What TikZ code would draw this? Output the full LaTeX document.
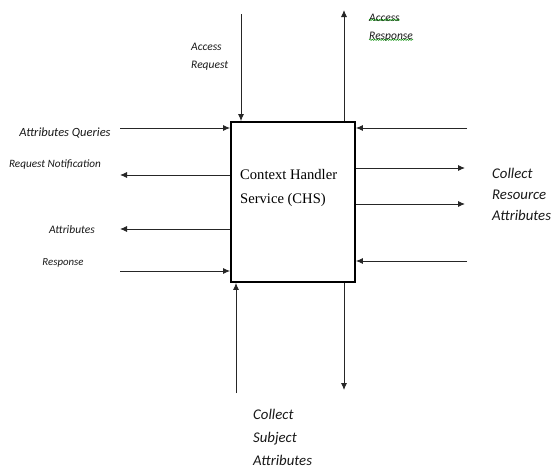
\documentclass[tikz,border=0pt]{standalone}
\usepackage{fontspec}
\setmainfont{Liberation Serif}
\newfontfamily\lblfont{Carlito}
\usetikzlibrary{arrows.meta,decorations.pathmorphing}
\begin{document}
\begin{tikzpicture}[x=1pt,y=-1pt,
  arr/.style={draw=black!85,line width=0.9pt,-{Latex[length=7pt,width=6pt]}},
  lbl/.style={font=\lblfont\itshape\fontsize{#1}{15}\selectfont,inner sep=0pt,text=black!90},
  lbl/.default=11.5,
  biglbl/.style={font=\lblfont\itshape\fontsize{14.8}{22}\selectfont,inner sep=0pt,align=left,text=black!90},
  wavy/.style={draw=green!55!black,line width=0.5pt,decorate,decoration={snake,amplitude=0.6pt,segment length=2.5pt}}]
\useasboundingbox (0,0) rectangle (560,471);
\fill[white] (0,0) rectangle (560,471);
% main box
\node[draw=black,line width=1.8pt,minimum width=124pt,minimum height=160pt,inner sep=0pt] (box) at (293,202) {};
\node[font=\fontsize{14.6}{24}\selectfont,align=left,inner sep=0pt,anchor=west] (chs) at (240,188) {Context Handler\\Service (CHS)};
% free ends
\coordinate (arqS) at (241,14);
\coordinate (arsE) at (344,10);
\coordinate (aqS) at (120,128);
\coordinate (rnE) at (120,175);
\coordinate (atE) at (120,229);
\coordinate (rsS) at (120,271);
\coordinate (r1S) at (467,128);
\coordinate (r2E) at (465,168);
\coordinate (r3E) at (465,204);
\coordinate (r4S) at (467,261);
\coordinate (b1S) at (236,393);
\coordinate (b2E) at (344,390);
% connectors
\draw[arr] (arqS) -- (arqS |- box.north);
\draw[arr] (box.north -| arsE) -- (arsE);
\draw[arr] (aqS) -- (box.west |- aqS);
\draw[arr] (box.west |- rnE) -- (rnE);
\draw[arr] (box.west |- atE) -- (atE);
\draw[arr] (rsS) -- (box.west |- rsS);
\draw[arr] (r1S) -- (box.east |- r1S);
\draw[arr] (box.east |- r2E) -- (r2E);
\draw[arr] (box.east |- r3E) -- (r3E);
\draw[arr] (r4S) -- (box.east |- r4S);
\draw[arr] (b1S) -- (box.south -| b1S);
\draw[arr] (box.south -| b2E) -- (b2E);
% labels
\node[lbl,anchor=west] (laccreq1) at (191,47) {Access};
\node[lbl,anchor=west] (laccreq2) at (191,66) {Request};
\node[lbl,anchor=west] (laccres1) at (369,18) {Access};
\node[lbl,anchor=west] (laccres2) at (369,37) {Response};
\draw[wavy] ([yshift=2pt]laccres1.south west) -- ([yshift=2pt]laccres1.south east);
\draw[wavy] ([yshift=2pt]laccres2.south west) -- ([yshift=2pt]laccres2.south east);
\node[lbl=12.5] (laq) at (65,133) {Attributes Queries};
\node[lbl=11.2] (lrn) at (55,165) {Request Notification};
\node[lbl=11.5] (lat) at (72,230) {Attributes};
\node[lbl=10.8] (lrs) at (63,263) {Response};
\node[biglbl,anchor=north west] (lcra) at (492,168) {Collect\\[-1pt]Resource\\[-1pt]Attributes};
\node[biglbl,anchor=north west] (lcsa) at (253,409) {Collect\\[1pt]Subject\\[1pt]Attributes};
\end{tikzpicture}
\end{document}
